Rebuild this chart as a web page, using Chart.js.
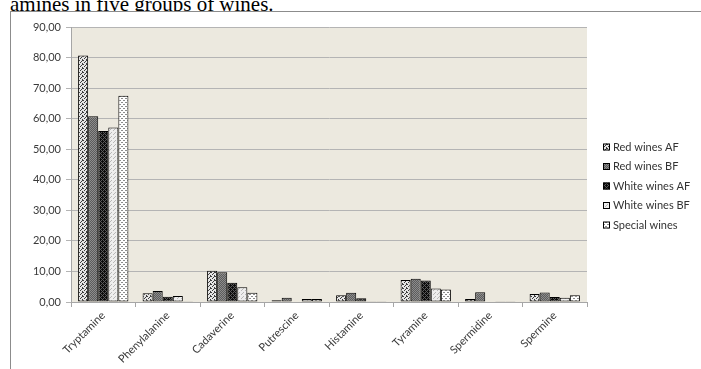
<!DOCTYPE html>
<html>
<head>
<meta charset="utf-8">
<script src="https://cdn.jsdelivr.net/npm/chart.js@4.4.1/dist/chart.umd.min.js"></script>
<style>
    body { margin: 0; background: #fff; width: 701px; height: 369px; overflow: hidden; position: relative; }
    #caption { position: absolute; left: 10px; top: -6px; font: 21px/21px 'Liberation Serif', serif; color: #000; white-space: nowrap; }
    #box { position: absolute; left: 10px; top: 11px; width: 690px; height: 357px; border-top: 1px solid #8c8c8c; border-left: 1px solid #8c8c8c; background: #fff; }
    #chart { display: block; }
</style>
</head>
<body>
<div id="caption">amines in five groups of wines.</div>
<div id="box"><canvas id="chart" width="690" height="357"></canvas></div>
<script>
const categories = ['Tryptamine', 'Phenylalanine', 'Cadaverine', 'Putrescine', 'Histamine', 'Tyramine', 'Spermidine', 'Spermine'];
const seriesNames = ['Red wines AF', 'Red wines BF', 'White wines AF', 'White wines BF', 'Special wines'];
const redAF = [80.7, 2.9, 10.2, 0.6, 2.2, 7.2, 1.0, 2.6];
const redBF = [60.8, 3.6, 9.7, 1.4, 3.0, 7.6, 3.2, 3.1];
const whiteAF = [56.0, 1.7, 6.3, 0.0, 1.2, 7.0, 0.0, 1.6];
const whiteBF = [57.1, 2.0, 4.8, 1.0, 0.1, 4.4, 0.1, 1.4];
const special = [67.5, 0.1, 3.0, 1.0, 0.1, 4.1, 0.1, 2.2];
const yMax = 90;
const yStep = 10;

Chart.defaults.font.family = "Lato, 'Open Sans', sans-serif";
Chart.defaults.font.size = 11;
Chart.defaults.color = '#3a3a3a';

const ctx = document.getElementById('chart').getContext('2d');

// small 4x4 tiles to imitate the Excel fill patterns
function makePattern(bg, fg, cells) {
    const tile = document.createElement('canvas');
    tile.width = 4;
    tile.height = 4;
    const t = tile.getContext('2d');
    t.fillStyle = bg;
    t.fillRect(0, 0, 4, 4);
    t.fillStyle = fg;
    cells.forEach(c => t.fillRect(c[0], c[1], 1, 1));
    return ctx.createPattern(tile, 'repeat');
}

const fills = [
    makePattern('#e6e6e6', '#3c3c3c', [[0, 0], [2, 1], [1, 2], [3, 3], [3, 0]]),
    makePattern('#8c8c8c', '#5c5c5c', [[0, 0], [2, 0], [1, 1], [3, 1], [0, 2], [2, 2], [1, 3], [3, 3]]),
    makePattern('#0c0c0c', '#5a5a5a', [[0, 0], [2, 0], [1, 1], [0, 2], [2, 2], [3, 3]]),
    makePattern('#eeeeee', '#b8b8b8', [[0, 0], [2, 2], [3, 1]]),
    makePattern('#ffffff', '#8c8c8c', [[0, 0], [1, 0], [2, 2], [3, 2]])
];

const values = [redAF, redBF, whiteAF, whiteBF, special];

const plotBackground = {
    id: 'plotBackground',
    beforeDraw(chart) {
        const a = chart.chartArea;
        const c = chart.ctx;
        c.save();
        c.fillStyle = '#ece9df';
        c.fillRect(a.left, a.top, a.right - a.left, a.bottom - a.top);
        c.restore();
    }
};

const sideLegend = {
    id: 'sideLegend',
    afterDraw(chart) {
        const c = chart.ctx;
        c.save();
        c.font = "11px Lato, 'Open Sans', sans-serif";
        c.textBaseline = 'middle';
        chart.data.datasets.forEach((ds, i) => {
            const y = 135 + i * 19.5;
            c.fillStyle = ds.backgroundColor;
            c.fillRect(592, y - 3.5, 7, 7);
            c.strokeStyle = '#000';
            c.lineWidth = 1;
            c.strokeRect(592.5, y - 3, 6, 6);
            c.fillStyle = '#333';
            c.fillText(ds.label, 602, y);
        });
        c.restore();
    }
};

new Chart(ctx, {
    type: 'bar',
    data: {
        labels: categories,
        datasets: seriesNames.map((name, i) => ({
            label: name,
            data: values[i],
            backgroundColor: fills[i],
            borderColor: '#000',
            borderWidth: 1,
            borderSkipped: false,
            categoryPercentage: 0.78,
            barPercentage: 1.0
        }))
    },
    options: {
        responsive: false,
        animation: false,
        devicePixelRatio: 1,
        layout: { padding: { top: 15, right: 114, bottom: 0, left: 0 } },
        plugins: {
            legend: { display: false },
            tooltip: { enabled: false }
        },
        scales: {
            x: {
                grid: { offset: true, drawOnChartArea: false, drawTicks: true, tickLength: 5, color: '#a6a6a6' },
                border: { color: '#a6a6a6' },
                ticks: { minRotation: 45, maxRotation: 45, padding: 2 },
                afterFit: scale => { scale.height = 67; }
            },
            y: {
                min: 0,
                max: yMax,
                grid: { color: '#b4b4b4', tickLength: 5 },
                border: { color: '#a6a6a6' },
                ticks: {
                    stepSize: yStep,
                    padding: 5,
                    callback: v => v.toFixed(2).replace('.', ',')
                },
                afterFit: scale => { scale.width = 60; }
            }
        }
    },
    plugins: [plotBackground, sideLegend]
});
</script>
</body>
</html>
